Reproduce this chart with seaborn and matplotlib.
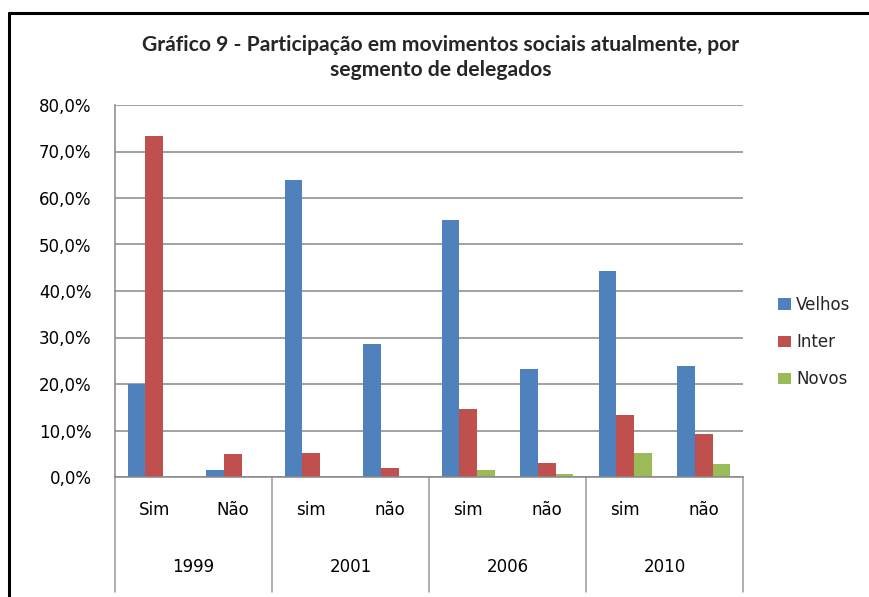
import matplotlib
matplotlib.use("Agg")
import matplotlib.pyplot as plt
import matplotlib.transforms as mtransforms
from matplotlib.lines import Line2D
import seaborn as sns
import pandas as pd
import numpy as np

# ---- data ----
years = ["1999", "2001", "2006", "2010"]
answers = ["Sim", "Não", "sim", "não", "sim", "não", "sim", "não"]
series = ["Velhos", "Inter", "Novos"]
velhos = [20.0, 1.4, 63.9, 28.5, 55.3, 23.3, 44.4, 23.9]
inter = [73.4, 5.0, 5.2, 2.0, 14.7, 3.1, 13.4, 9.3]
novos = [np.nan, np.nan, np.nan, np.nan, 1.6, 0.7, 5.2, 2.9]
yticks = [0, 10, 20, 30, 40, 50, 60, 70, 80]
colors = ["#4F81BD", "#C0504D", "#9BBB59"]
title_lines = ["Gráfico 9 - Participação em movimentos sociais atualmente, por",
               "segmento de delegados"]

keys = [f"{years[i // 2]} {answers[i]}" for i in range(len(answers))]
rows = []
for name, vals in zip(series, [velhos, inter, novos]):
    for k, v in zip(keys, vals):
        rows.append({"cat": k, "serie": name, "valor": v})
df = pd.DataFrame(rows)

sns.set_theme(style="white")
plt.rcParams['font.family'] = ['DejaVu Sans']

W, H = 869, 597
fig = plt.figure(figsize=(W / 100, H / 100), dpi=100)
x0, x1, ytop, ybot = 115, 743, 105, 477
ax = fig.add_axes([x0 / W, 1 - ybot / H, (x1 - x0) / W, (ybot - ytop) / H])

sns.barplot(data=df, x="cat", y="valor", hue="serie", order=keys,
            hue_order=series, palette=colors, width=0.67, ax=ax,
            saturation=1, linewidth=0, errorbar=None, gap=0)

handles, labels = ax.get_legend_handles_labels()
if ax.get_legend() is not None:
    ax.get_legend().remove()

ax.set_xlim(-0.5, len(keys) - 0.5)
ax.set_ylim(0, 80)
ax.set_yticks(yticks)
ax.set_yticklabels([f"{v:.1f}%".replace(".", ",") for v in yticks])
ax.tick_params(axis='y', length=0, pad=17, labelsize=12, labelcolor='black')
ax.yaxis.grid(True, color="#878787", lw=1.1)
ax.set_axisbelow(True)
ax.set_xlabel("")
ax.set_ylabel("")
for s in ["top", "right"]:
    ax.spines[s].set_visible(False)
for s in ["left", "bottom"]:
    ax.spines[s].set_color("#878787")
    ax.spines[s].set_linewidth(1.1)

ax.set_xticks(range(len(keys)))
ax.set_xticklabels(answers)
ax.tick_params(axis='x', length=0, pad=17, labelsize=12, labelcolor='black')

blend = mtransforms.blended_transform_factory(ax.transData, ax.transAxes)
ydiv = (ybot - 592) / (ybot - ytop)
for xd in [-0.5, 1.5, 3.5, 5.5, 7.5]:
    ax.plot([xd, xd], [0, ydiv], transform=blend, clip_on=False,
            color="#9A9A9A", lw=1.1)
yyear = (ybot - 567) / (ybot - ytop)
for i, yr in enumerate(years):
    ax.text(2 * i + 0.5, yyear, yr, transform=blend, ha='center',
            va='center', fontsize=12, color='black')

fig.legend(handles, labels, loc='center left',
           bbox_to_anchor=(778 / W, 1 - 342 / H), bbox_transform=fig.transFigure,
           frameon=False, fontsize=12, borderpad=0, borderaxespad=0,
           handlelength=0.75, handleheight=0.65, handletextpad=0.35,
           labelspacing=1.15)

fig.text(441 / W, 1 - 45 / H, title_lines[0], ha='center', va='center',
         fontsize=15.2, fontweight='bold', family=['Lato', 'DejaVu Sans'])
fig.text(441 / W, 1 - 70 / H, title_lines[1], ha='center', va='center',
         fontsize=15.2, fontweight='bold', family=['Lato', 'DejaVu Sans'])

fig.add_artist(Line2D([9 / W, 9 / W], [0, 1 - 13 / H], color='black', lw=2.2))
fig.add_artist(Line2D([9 / W, 1], [1 - 13 / H, 1 - 13 / H], color='black', lw=2.2))

fig.savefig("out.png", dpi=100)
